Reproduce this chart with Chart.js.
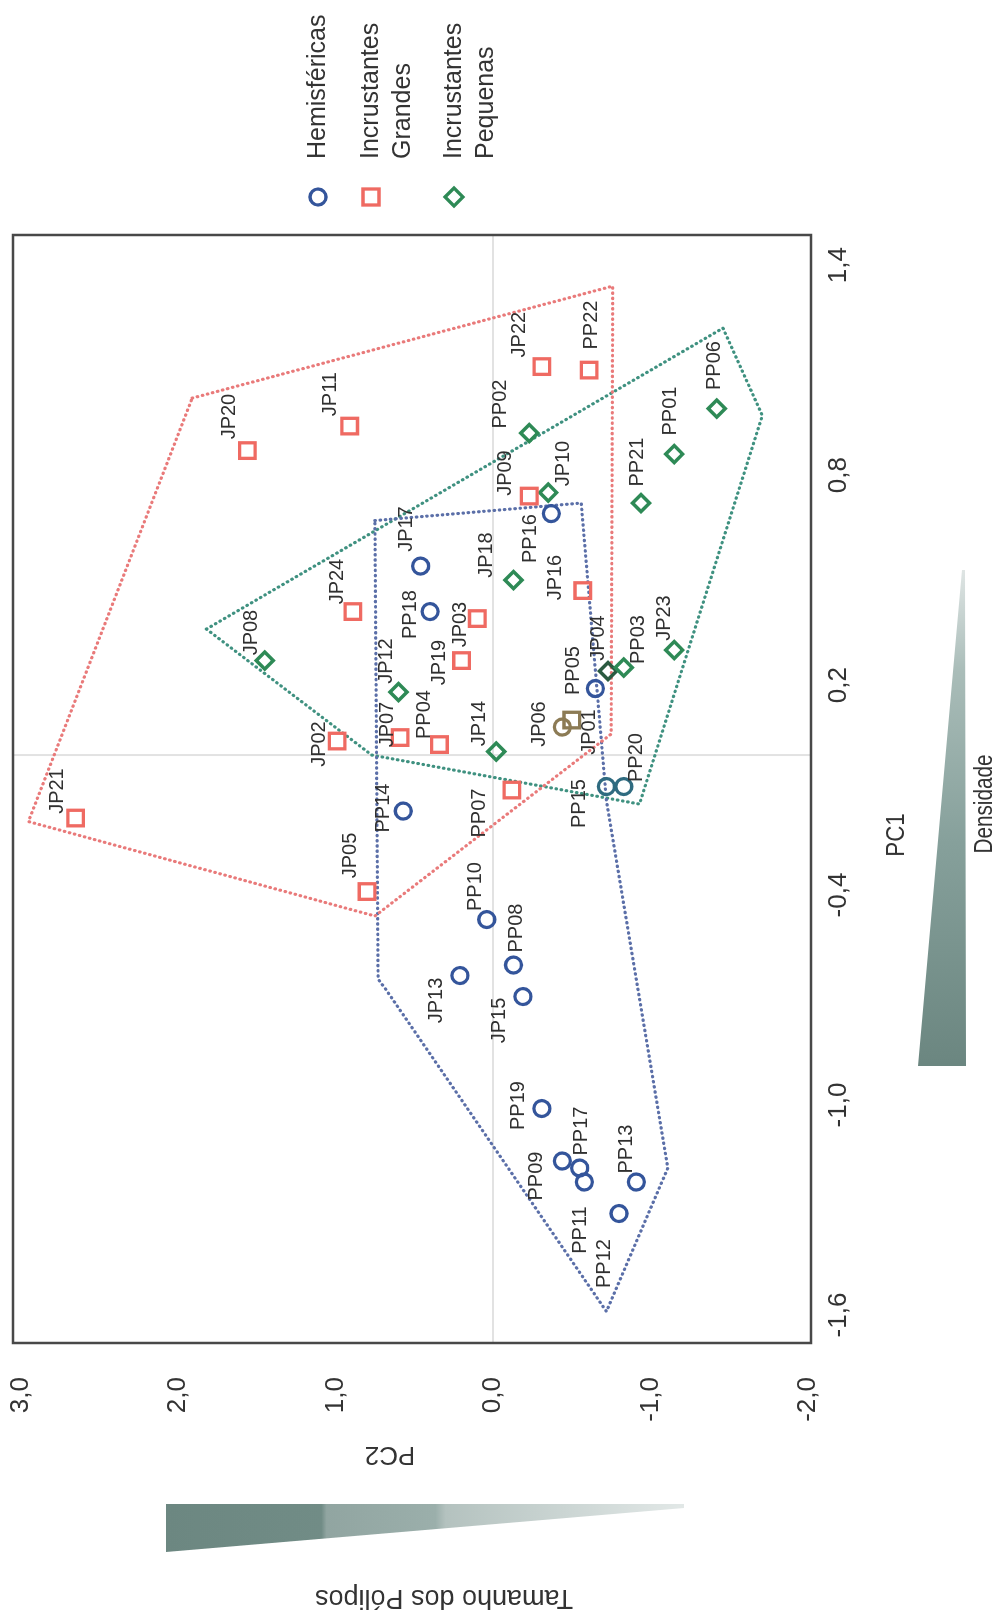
<!DOCTYPE html>
<html>
<head>
<meta charset="utf-8">
<script src="https://cdn.jsdelivr.net/npm/chart.js@4.4.1/dist/chart.umd.min.js"></script>
<style>
  html, body { margin: 0; padding: 0; background: #fff; overflow: hidden; }
  /* the figure is laid out landscape and turned a quarter turn onto the portrait page */
  #sheet { position: absolute; left: 0; top: 0; width: 1612px; height: 1000px;
           transform-origin: 0 0; transform: translate(0, 1612px) rotate(-90deg); }
  canvas { display: block; }
</style>
</head>
<body>
<div id="sheet"><canvas id="pca" width="1612" height="1000"></canvas></div>
<script>
// ---- PCA scores (PC1, PC2) per colony, grouped by morphotype ----
const hemNames = ['JP17','PP18','PP16','PP05','PP14','PP10','PP08','JP13','JP15','PP19','PP09','PP17','PP11','PP13','PP12','PP15','PP20','JP06'];
const hemPC1   = [0.54, 0.41, 0.69, 0.19, -0.16, -0.47, -0.60, -0.63, -0.69, -1.01, -1.16, -1.18, -1.22, -1.22, -1.31, -0.09, -0.09, 0.08];
const hemPC2   = [0.46, 0.40, -0.37, -0.65, 0.57, 0.04, -0.13, 0.21, -0.19, -0.31, -0.44, -0.55, -0.58, -0.91, -0.80, -0.72, -0.83, -0.44];

const grNames = ['JP21','JP20','JP11','JP22','PP22','JP09','JP16','JP24','JP03','JP19','JP07','PP04','JP02','PP07','JP05','JP01'];
const grPC1   = [-0.18, 0.87, 0.94, 1.11, 1.10, 0.74, 0.47, 0.41, 0.39, 0.27, 0.05, 0.03, 0.04, -0.10, -0.39, 0.10];
const grPC2   = [2.65, 1.56, 0.91, -0.31, -0.61, -0.23, -0.57, 0.89, 0.10, 0.20, 0.59, 0.34, 0.99, -0.12, 0.80, -0.50];

const pqNames = ['PP02','PP06','PP01','JP10','PP21','JP18','JP08','JP12','JP04','PP03','JP23','JP14'];
const pqPC1   = [0.92, 0.99, 0.86, 0.75, 0.72, 0.50, 0.27, 0.18, 0.24, 0.25, 0.30, 0.01];
const pqPC2   = [-0.23, -1.42, -1.15, -0.35, -0.94, -0.13, 1.45, 0.60, -0.73, -0.83, -1.15, -0.02];

// ---- group envelopes (polygon vertices, PC1 / PC2) ----
const grHullPC1  = [1.02, 1.34, 0.06, -0.46, -0.19];
const grHullPC2  = [1.91, -0.76, -0.75, 0.75, 2.95];
const hemHullPC1 = [0.67, 0.72, -0.13, -1.18, -1.59, -0.67, -0.64];
const hemHullPC2 = [0.75, -0.56, -0.72, -1.11, -0.72, 0.68, 0.73];
const pqHullPC1  = [0.36, 1.22, 0.97, -0.14, 0.00];
const pqHullPC2  = [1.82, -1.46, -1.71, -0.93, 0.77];

// ---- axes ----
const pc1Ticks = [-1.6, -1.0, -0.4, 0.2, 0.8, 1.4];
const pc2Ticks = [-2, -1, 0, 1, 2, 3];
const pc1Range = [-1.68, 1.486];
const pc2Range = [-2.019, 3.048];

// ---- styling ----
const BLUE = '#34559b', RED = '#ef6a62', GREEN = '#2e8a56';
const tint = { PP15: '#2f6b80', PP20: '#2f6b80', JP04: '#2b5a40', JP06: '#8c7b55', JP01: '#8c7b55' };
const labelShift = {
  JP20:[34,-18], JP11:[32,-19], JP22:[32,-22], PP22:[45,2], PP06:[43,-2], PP01:[43,-4], PP21:[41,-4],
  PP02:[29,-29], JP09:[23,-24], JP10:[29,15], PP16:[-25,-21], JP24:[30,-15], JP17:[37,-14], PP18:[-3,-20],
  JP18:[25,-27], JP16:[13,-27], JP03:[-6,-17], JP08:[28,-13], JP12:[31,-12], JP19:[-2,-22], JP04:[33,-10],
  PP03:[28,15], JP23:[32,-10], PP05:[18,-22], JP07:[13,-13], PP04:[30,-15], JP02:[-3,-18], JP14:[28,-17],
  JP06:[3,-23], JP01:[-12,18], PP14:[3,-20], PP07:[-23,-32], PP15:[-17,-27], PP20:[29,13], JP21:[27,-18],
  JP05:[36,-17], PP10:[33,-11], PP08:[37,3], JP13:[-25,-23], JP15:[-24,-23], PP19:[3,-23], PP17:[37,2],
  PP09:[-15,-26], PP13:[33,-10], PP11:[-48,-4], PP12:[-50,-15]
};
const SANS = '"Liberation Sans", Arial, sans-serif';

const toPoints = (a, b) => a.map((v, i) => ({ x: v, y: b[i] }));
const closed = (a, b) => { const p = toPoints(a, b); p.push(p[0]); return p; };
const fmt = v => v.toFixed(1).replace('.', ',');

function markerSet(label, names, pc1, pc2, color, style, radius, width) {
  return {
    label, names, data: toPoints(pc1, pc2), showLine: false,
    pointStyle: style, pointRadius: radius, pointHoverRadius: radius,
    pointBorderWidth: width, backgroundColor: 'rgba(0,0,0,0)',
    pointBackgroundColor: 'rgba(0,0,0,0)',
    pointBorderColor: ctx => tint[names[ctx.dataIndex]] || color
  };
}
function hullSet(pc1, pc2, color) {
  return {
    data: closed(pc1, pc2), showLine: true, pointRadius: 0, borderColor: color,
    borderWidth: 3.2, borderDash: [0.5, 4.7], borderCapStyle: 'round', fill: false, tension: 0
  };
}
// keep the plot box exactly where the layout padding puts it
function noScalePadding(s) {
  s.paddingTop = 0; s.paddingBottom = 0; s.paddingLeft = 0; s.paddingRight = 0;
}
// condensed caption: regular face squeezed horizontally
function narrowText(ctx, text, x, y, size, squeeze) {
  ctx.save();
  ctx.translate(x, y); ctx.scale(squeeze, 1);
  ctx.font = size + 'px ' + SANS;
  ctx.fillText(text, 0, 0);
  ctx.restore();
}

const decorations = {
  id: 'decorations',
  beforeDatasetsDraw(chart) {
    const { ctx, chartArea: a, scales: { x, y } } = chart;
    const x0 = x.getPixelForValue(0), y0 = y.getPixelForValue(0);
    ctx.save();
    ctx.strokeStyle = '#e2e2e2'; ctx.lineWidth = 2;
    ctx.beginPath();
    ctx.moveTo(x0, a.top); ctx.lineTo(x0, a.bottom);
    ctx.moveTo(a.left, y0); ctx.lineTo(a.right, y0);
    ctx.stroke();
    ctx.restore();
  },
  afterDatasetsDraw(chart) {
    const { ctx } = chart;
    ctx.save();
    ctx.font = '20px ' + SANS; ctx.fillStyle = '#303030';
    ctx.textAlign = 'center'; ctx.textBaseline = 'middle';
    chart.data.datasets.forEach((ds, di) => {
      if (!ds.names) return;
      chart.getDatasetMeta(di).data.forEach((pt, i) => {
        const s = labelShift[ds.names[i]] || [0, -20];
        ctx.fillText(ds.names[i], pt.x + s[0], pt.y + s[1]);
      });
    });
    ctx.restore();
  },
  afterDraw(chart) {
    const { ctx, chartArea: a } = chart;
    ctx.save();
    // plot frame
    ctx.strokeStyle = '#484848'; ctx.lineWidth = 2.5;
    ctx.strokeRect(a.left, a.top, a.right - a.left, a.bottom - a.top);

    // axis titles
    ctx.fillStyle = '#333';
    ctx.textAlign = 'center'; ctx.textBaseline = 'middle';
    narrowText(ctx, 'PC1', 777, 897, 26, 0.86);
    narrowText(ctx, 'Densidade', 808, 985, 25, 0.83);
    ctx.save();
    ctx.translate(158, 390); ctx.rotate(-Math.PI / 2);
    ctx.font = '26px ' + SANS; ctx.fillText('PC2', 0, 0);
    ctx.restore();
    ctx.save();
    ctx.translate(15, 444); ctx.rotate(-Math.PI / 2);
    ctx.font = '27px ' + SANS; ctx.fillText('Tamanho dos Pólipos', 0, 0);
    ctx.restore();

    // gradient wedges
    let g = ctx.createLinearGradient(546, 0, 1042, 0);
    g.addColorStop(0, '#6b8680'); g.addColorStop(0.45, '#86a09b');
    g.addColorStop(0.8, '#aabdb9'); g.addColorStop(1, '#dfe5e4');
    ctx.fillStyle = g;
    ctx.beginPath(); ctx.moveTo(546, 918); ctx.lineTo(546, 966); ctx.lineTo(1042, 965); ctx.lineTo(1042, 962); ctx.closePath(); ctx.fill();

    g = ctx.createLinearGradient(0, 166, 0, 684);
    g.addColorStop(0, '#6c8781'); g.addColorStop(0.3, '#718c86');
    g.addColorStop(0.31, '#91a5a1'); g.addColorStop(0.52, '#9bafab');
    g.addColorStop(0.54, '#b4c2bf'); g.addColorStop(1, '#e2e8e7');
    ctx.fillStyle = g;
    ctx.beginPath(); ctx.moveTo(108, 166); ctx.lineTo(60, 166); ctx.lineTo(104, 684); ctx.lineTo(108, 684); ctx.closePath(); ctx.fill();

    // legend
    const items = [
      { c: BLUE, s: 'circle', y: 318, lines: ['Hemisféricas'] },
      { c: RED, s: 'rect', y: 371, lines: ['Incrustantes', 'Grandes'] },
      { c: GREEN, s: 'rectRot', y: 454, lines: ['Incrustantes', 'Pequenas'] }
    ];
    ctx.font = '25px ' + SANS; ctx.textAlign = 'left'; ctx.fillStyle = '#333';
    items.forEach(it => {
      ctx.lineWidth = 3.3; ctx.strokeStyle = it.c;
      ctx.beginPath();
      if (it.s === 'circle') ctx.arc(1415, it.y, 8, 0, Math.PI * 2);
      else if (it.s === 'rect') ctx.rect(1407, it.y - 8, 16, 16);
      else { ctx.moveTo(1415, it.y - 9); ctx.lineTo(1424, it.y); ctx.lineTo(1415, it.y + 9); ctx.lineTo(1406, it.y); ctx.closePath(); }
      ctx.stroke();
      it.lines.forEach((t, k) => ctx.fillText(t, 1453, it.y + k * 32));
    });
    ctx.restore();
  }
};

new Chart(document.getElementById('pca'), {
  type: 'scatter',
  data: {
    datasets: [
      markerSet('Hemisféricas', hemNames, hemPC1, hemPC2, BLUE, 'circle', 8, 3.3),
      markerSet('Incrustantes Grandes', grNames, grPC1, grPC2, RED, 'rect', 11, 3.3),
      markerSet('Incrustantes Pequenas', pqNames, pqPC1, pqPC2, GREEN, 'rectRot', 8.5, 3.5),
      hullSet(grHullPC1, grHullPC2, '#e97a7a'),
      hullSet(hemHullPC1, hemHullPC2, '#5b6fa8'),
      hullSet(pqHullPC1, pqHullPC2, '#3f9180')
    ]
  },
  options: {
    responsive: false, animation: false, devicePixelRatio: 1,
    layout: { autoPadding: false, padding: { left: 130, right: 235, top: 13, bottom: 0 } },
    plugins: { legend: { display: false }, tooltip: { enabled: false } },
    scales: {
      x: {
        type: 'linear', min: pc1Range[0], max: pc1Range[1],
        afterBuildTicks: s => { s.ticks = pc1Ticks.map(v => ({ value: v })); },
        afterFit: s => { s.height = 189; noScalePadding(s); },
        grid: { display: false, drawTicks: false }, border: { display: false },
        ticks: { padding: 12, color: '#333', font: { family: SANS, size: 26 }, callback: fmt, maxRotation: 0, autoSkip: false }
      },
      y: {
        type: 'linear', min: pc2Range[0], max: pc2Range[1],
        afterBuildTicks: s => { s.ticks = pc2Ticks.map(v => ({ value: v })); },
        afterFit: s => { s.width = 139; noScalePadding(s); },
        grid: { display: false, drawTicks: false }, border: { display: false },
        ticks: { padding: 34, color: '#333', font: { family: SANS, size: 26 }, callback: fmt, autoSkip: false }
      }
    }
  },
  plugins: [decorations]
});
</script>
</body>
</html>
